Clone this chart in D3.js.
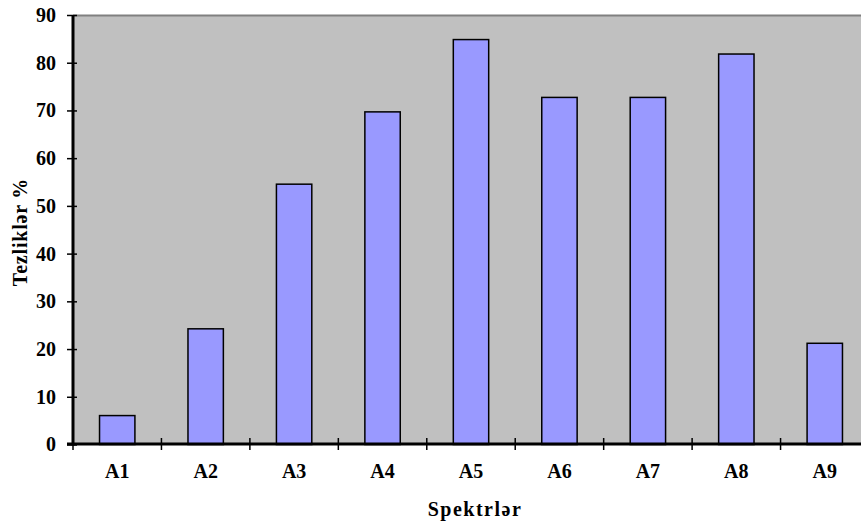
<!DOCTYPE html>
<html lang="en">
<head>
  <meta charset="UTF-8">
  <title>Spektrlər</title>
  <script src="https://d3js.org/d3.v7.min.js"></script>
  <style>
    body { margin: 0; background: #fff; }
    svg { display: block; }
    text { font-family: "Liberation Serif", "Times New Roman", serif; font-weight: bold; fill: #000; }
  </style>
</head>
<body>
<div id="chart"></div>
<script>
// data
const categories = ["A1", "A2", "A3", "A4", "A5", "A6", "A7", "A8", "A9"];
const values = [6.06, 24.24, 54.55, 69.70, 84.85, 72.73, 72.73, 81.82, 21.21];
const yTicks = [0, 10, 20, 30, 40, 50, 60, 70, 80, 90];

const width = 861, height = 524;
// plot area runs past the right edge of the window, like the original
const margin = { top: 15, left: 73, bottom: 80 };
const plotRight = 869;
const plotBottom = height - margin.bottom; // 444

const svg = d3.select("#chart").append("svg")
  .attr("width", width)
  .attr("height", height);

const x = d3.scaleBand()
  .domain(categories)
  .range([margin.left, plotRight])
  .paddingInner(0)
  .paddingOuter(0);

const y = d3.scaleLinear()
  .domain([0, 90])
  .range([plotBottom + 0.5, margin.top]);

// plot background
svg.append("rect")
  .attr("x", margin.left)
  .attr("y", margin.top)
  .attr("width", plotRight - margin.left)
  .attr("height", plotBottom - margin.top)
  .attr("fill", "#c0c0c0");

// top border
svg.append("line")
  .attr("x1", margin.left).attr("x2", plotRight)
  .attr("y1", margin.top + 0.5).attr("y2", margin.top + 0.5)
  .attr("stroke", "#808080").attr("stroke-width", 2);

// bars
const barW = x.bandwidth() * 0.4;
svg.selectAll("rect.bar")
  .data(values)
  .enter().append("rect")
  .attr("class", "bar")
  .attr("x", (d, i) => x(categories[i]) + (x.bandwidth() - barW) / 2)
  .attr("y", d => y(d))
  .attr("width", barW)
  .attr("height", d => y(0) - y(d))
  .attr("fill", "#9999ff")
  .attr("stroke", "#000")
  .attr("stroke-width", 1.5);

// y axis
const yAxis = svg.append("g")
  .attr("transform", `translate(${margin.left},0)`)
  .call(d3.axisLeft(y).tickValues(yTicks).tickSize(0).tickPadding(17));
yAxis.select(".domain").remove();
yAxis.selectAll("text")
  .style("font-size", "20px")
  .style("font-family", "Liberation Serif, serif")
  .style("font-weight", "bold");
yAxis.selectAll(".tick").append("line")
  .attr("x1", -6).attr("x2", 4)
  .attr("stroke", "#000").attr("stroke-width", 1.5);
svg.append("line")
  .attr("x1", margin.left).attr("x2", margin.left)
  .attr("y1", margin.top).attr("y2", plotBottom + 1.5)
  .attr("stroke", "#000").attr("stroke-width", 3);

// x axis
const xAxis = svg.append("g")
  .attr("transform", `translate(0,${plotBottom})`)
  .call(d3.axisBottom(x).tickSize(0).tickPadding(20));
xAxis.select(".domain").remove();
xAxis.selectAll("text")
  .style("font-size", "20px")
  .style("font-family", "Liberation Serif, serif")
  .style("font-weight", "bold");
// ticks between categories
const bounds = categories.slice(1).map(c => x(c));
bounds.unshift(margin.left);
svg.selectAll("line.xtick")
  .data(bounds)
  .enter().append("line")
  .attr("class", "xtick")
  .attr("x1", d => d).attr("x2", d => d)
  .attr("y1", plotBottom - 6).attr("y2", plotBottom + 6)
  .attr("stroke", "#000").attr("stroke-width", 1.5);
svg.append("line")
  .attr("x1", margin.left - 6).attr("x2", plotRight)
  .attr("y1", plotBottom).attr("y2", plotBottom)
  .attr("stroke", "#000").attr("stroke-width", 3);

// axis titles
svg.append("text")
  .attr("x", 475)
  .attr("y", 516)
  .attr("text-anchor", "middle")
  .style("font-size", "20px")
  .style("letter-spacing", "1.5px")
  .text("Spektrlər");

svg.append("text")
  .attr("transform", `translate(27,232) rotate(-90)`)
  .attr("text-anchor", "middle")
  .style("font-size", "20px")
  .style("letter-spacing", "0.8px")
  .text("Tezliklər %");
</script>
</body>
</html>
